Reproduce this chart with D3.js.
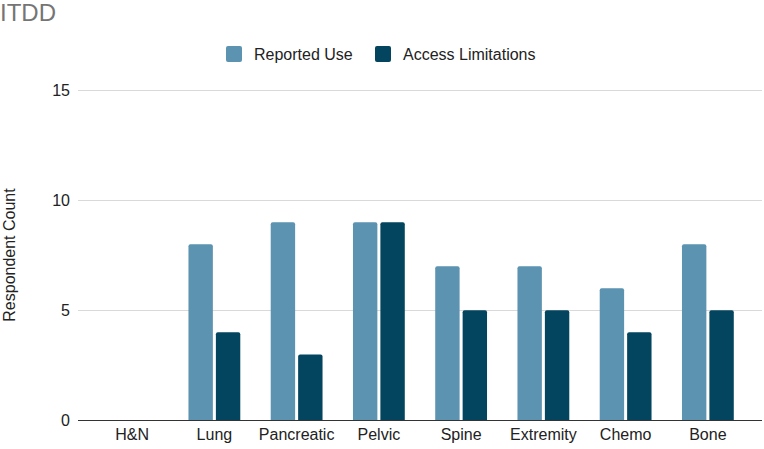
<!DOCTYPE html>
<html><head><meta charset="utf-8">
<script src="https://cdn.jsdelivr.net/npm/d3@7"></script>
<style>body{margin:0;background:#fff}svg{display:block}text{font-family:"Liberation Sans",Arial,sans-serif}</style>
</head><body>
<script>
const categories = ["H&N","Lung","Pancreatic","Pelvic","Spine","Extremity","Chemo","Bone"];
const seriesNames = ["Reported Use","Access Limitations"];
const reportedUse = [0,8,9,9,7,7,6,8];
const accessLimitations = [0,4,3,9,5,5,4,5];
const yTicks = [0,5,10,15];
const colors = ["#5b93b1","#03445f"];
const title = "ITDD";
const yLabel = "Respondent Count";

const FONT="'Liberation Sans',Arial,sans-serif";
const W=764,H=449;
const svg=d3.select("body").append("svg").attr("width",W).attr("height",H);
const y=d3.scaleLinear().domain([0,15]).range([420.5,90]);
const x=d3.scaleBand().domain(categories).range([91,749]);
const xs=d3.scaleBand().domain(seriesNames).range([x.bandwidth()*0.185,x.bandwidth()*0.815]).paddingInner(0.11);
const gridL=78, gridR=762;

svg.append("text").attr("x",0).attr("y",21).attr("font-size",24).attr("fill","#757575").text(title);

// grid
svg.append("g").selectAll("line").data(yTicks.filter(d=>d>0)).join("line")
 .attr("x1",gridL).attr("x2",gridR).attr("y1",d=>Math.round(y(d))+0.5).attr("y2",d=>Math.round(y(d))+0.5)
 .attr("stroke","#d9d9d9").attr("stroke-width",1);

// y axis labels
const ya=svg.append("g").attr("transform",`translate(${gridL},0)`).call(d3.axisLeft(y).tickValues(yTicks).tickSize(0).tickPadding(8));
ya.select(".domain").remove();
ya.selectAll("text").attr("font-size",16).attr("fill","#222").attr("font-family",FONT);

svg.append("text").attr("transform","translate(15,255) rotate(-90)").attr("text-anchor","middle")
 .attr("font-size",16).attr("fill","#222").text(yLabel);

// bars
const data=categories.map((c,i)=>({c,vals:[reportedUse[i],accessLimitations[i]]}));
const g=svg.append("g");
data.forEach(d=>{
  d.vals.forEach((v,j)=>{
    if(v<=0) return;
    const bx=x(d.c)+xs(seriesNames[j]), bw=xs.bandwidth(), top=y(v), bot=y(0), r=2;
    const p=`M${bx},${bot}V${top+r}Q${bx},${top} ${bx+r},${top}H${bx+bw-r}Q${bx+bw},${top} ${bx+bw},${top+r}V${bot}Z`;
    g.append("path").attr("d",p).attr("fill",colors[j]);
  });
});

// baseline
svg.append("line").attr("x1",gridL).attr("x2",gridR).attr("y1",y(0)).attr("y2",y(0)).attr("stroke","#333").attr("stroke-width",1);

// x axis labels
const xa=svg.append("g").attr("transform",`translate(0,${y(0)})`).call(d3.axisBottom(x).tickSize(0).tickPadding(8));
xa.select(".domain").remove();
xa.selectAll("text").attr("font-size",16).attr("fill","#222").attr("font-family",FONT);

// legend
const legX=[226,375];
seriesNames.forEach((n,j)=>{
  svg.append("rect").attr("x",legX[j]).attr("y",46).attr("width",16).attr("height",16).attr("rx",2).attr("fill",colors[j]);
  svg.append("text").attr("x",legX[j]+28).attr("y",59.5).attr("font-size",16).attr("fill","#222").text(n);
});
</script>
</body></html>
